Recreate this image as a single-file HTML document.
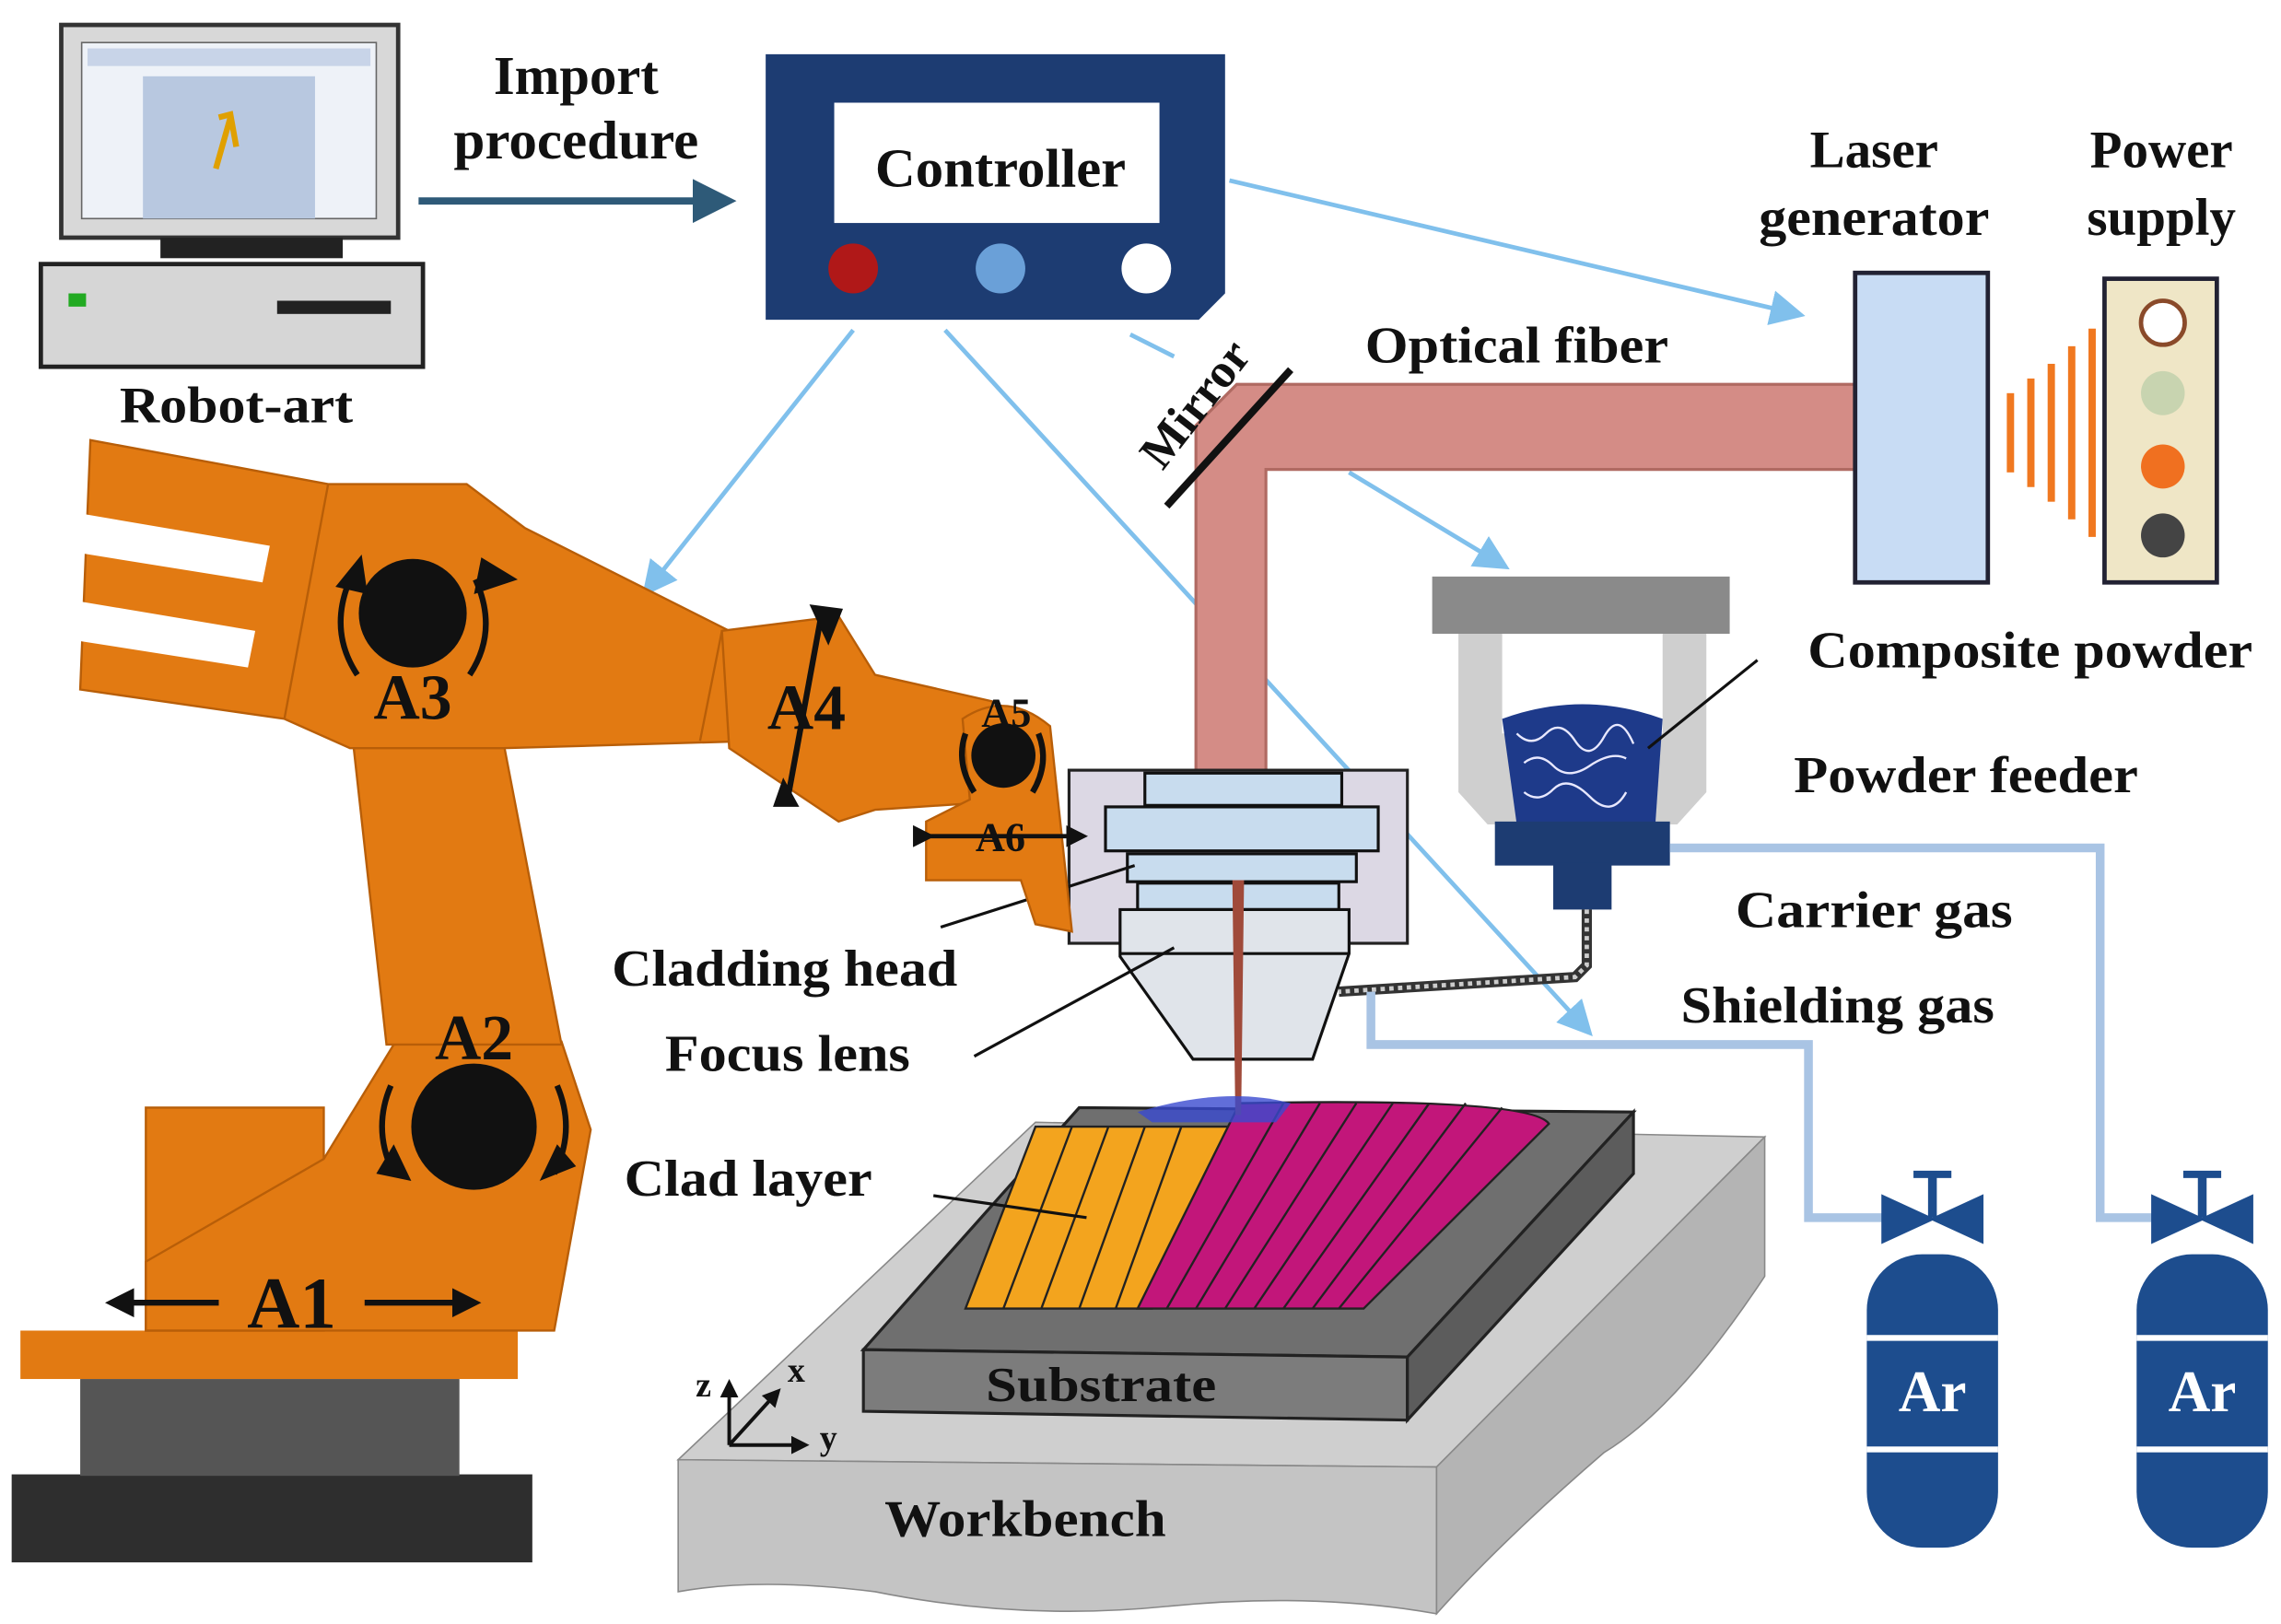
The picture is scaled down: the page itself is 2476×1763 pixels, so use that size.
<!DOCTYPE html>
<html><head><meta charset="utf-8"><style>
html,body{margin:0;padding:0;background:#fff}
svg{display:block}
text{font-family:"Liberation Serif",serif;font-weight:bold;fill:#111}
</style></head><body>
<svg width="2476" height="1763" viewBox="0 0 1564 1107" preserveAspectRatio="none" xmlns="http://www.w3.org/2000/svg">
<defs>
<marker id="ab" markerWidth="8" markerHeight="8" refX="6" refY="4" orient="auto" markerUnits="strokeWidth"><path d="M0,0 L8,4 L0,8 Z" fill="#80c0ec"/></marker>
<marker id="ad" markerWidth="6" markerHeight="6" refX="4" refY="3" orient="auto" markerUnits="strokeWidth"><path d="M0,0 L6,3 L0,6 Z" fill="#2e5a78"/></marker>
<marker id="ak" markerWidth="5" markerHeight="5" refX="3" refY="2.5" orient="auto" markerUnits="strokeWidth"><path d="M0,0 L5,2.5 L0,5 Z" fill="#111"/></marker>
</defs>

<!-- Computer -->
<rect x="42" y="17" width="231" height="145" fill="#d8d8d8" stroke="#333" stroke-width="3"/>
<rect x="56" y="29" width="202" height="120" fill="#eef2f8" stroke="#666"/>
<rect x="98" y="52" width="118" height="97" fill="#b8c8e0"/>
<rect x="60" y="33" width="194" height="12" fill="#c8d4e8"/>
<path d="M150,80 L158,78 L162,100 M158,80 L148,115" stroke="#e0a000" stroke-width="4" fill="none"/>
<rect x="110" y="162" width="125" height="14" fill="#222"/>
<rect x="28" y="180" width="262" height="70" fill="#d6d6d6" stroke="#222" stroke-width="3"/>
<rect x="47" y="200" width="12" height="9" fill="#2a2"/>
<rect x="190" y="205" width="78" height="9" fill="#222"/>
<text x="162" y="288" font-size="35" text-anchor="middle" textLength="160" lengthAdjust="spacingAndGlyphs">Robot-art</text>

<text x="395" y="64" font-size="37" text-anchor="middle">Import</text>
<text x="395" y="108" font-size="37" text-anchor="middle" textLength="168" lengthAdjust="spacingAndGlyphs">procedure</text>
<line x1="287" y1="137" x2="495" y2="137" stroke="#2e5a78" stroke-width="5" marker-end="url(#ad)"/>

<!-- Controller -->
<path d="M525,37 L840,37 L840,200 L822,218 L525,218 Z" fill="#1d3c72"/>
<rect x="572" y="70" width="223" height="82" fill="#fff"/>
<text x="686" y="127" font-size="37" text-anchor="middle" textLength="172" lengthAdjust="spacingAndGlyphs">Controller</text>
<circle cx="585" cy="183" r="17" fill="#b01818"/>
<circle cx="686" cy="183" r="17" fill="#6aa0d8"/>
<circle cx="786" cy="183" r="17" fill="#fff"/>

<!-- blue arrows -->
<g stroke="#80c0ec" stroke-width="3" fill="none">
<line x1="843" y1="123" x2="1232" y2="214" marker-end="url(#ab)"/>
<line x1="585" y1="225" x2="444" y2="402" marker-end="url(#ab)"/>
<line x1="648" y1="225" x2="1088" y2="702" marker-end="url(#ab)"/>
<line x1="775" y1="228" x2="805" y2="243"/>
<line x1="925" y1="322" x2="1030" y2="385" marker-end="url(#ab)"/>
</g>

<!-- optical fiber -->
<path d="M820,530 L820,290 L848,262 L1272,262 L1272,320 L868,320 L868,530 Z" fill="#d48c86" stroke="#b06a62" stroke-width="2"/>
<text x="1040" y="247" font-size="35" text-anchor="middle" textLength="208" lengthAdjust="spacingAndGlyphs">Optical fiber</text>
<line x1="800" y1="345" x2="885" y2="252" stroke="#111" stroke-width="5"/>
<text x="0" y="0" font-size="33" text-anchor="middle" transform="translate(828,282) rotate(-52)">Mirror</text>

<!-- Laser generator / Power supply -->
<text x="1285" y="114" font-size="36" text-anchor="middle">Laser</text>
<text x="1285" y="160" font-size="36" text-anchor="middle" textLength="158" lengthAdjust="spacingAndGlyphs">generator</text>
<text x="1482" y="114" font-size="36" text-anchor="middle">Power</text>
<text x="1482" y="160" font-size="36" text-anchor="middle">supply</text>
<rect x="1272" y="186" width="91" height="211" fill="#c8dcf4" stroke="#223" stroke-width="3"/>
<rect x="1443" y="190" width="77" height="207" fill="#efe6c6" stroke="#223" stroke-width="3"/>
<circle cx="1483" cy="220" r="15" fill="#fff" stroke="#8a4a2a" stroke-width="3"/>
<circle cx="1483" cy="268" r="15" fill="#c8d4b0"/>
<circle cx="1483" cy="318" r="15" fill="#f07020"/>
<circle cx="1483" cy="365" r="15" fill="#444"/>
<g fill="#f07820">
<rect x="1376" y="268" width="5" height="54"/>
<rect x="1390" y="258" width="5" height="74"/>
<rect x="1404" y="248" width="5" height="94"/>
<rect x="1418" y="236" width="5" height="118"/>
<rect x="1432" y="224" width="5" height="142"/>
</g>

<!-- Powder feeder -->
<rect x="982" y="393" width="204" height="39" fill="#8a8a8a"/>
<path d="M1000,432 L1030,432 L1030,500 L1140,500 L1140,432 L1170,432 L1170,540 L1150,562 L1020,562 L1000,540 Z" fill="#cfcfcf"/>
<path d="M1030,490 Q1085,470 1140,490 L1135,562 L1040,562 Z" fill="#1e3a8a"/>
<g stroke="#e8e8ff" stroke-width="1.5" fill="none">
<path d="M1040,500 q10,10 20,0 t20,5 t20,-3 t20,5 M1045,520 q10,-8 20,2 t25,0 t25,-5 M1045,540 q10,8 20,-2 t25,5 t25,-3"/>
</g>
<text x="1392" y="455" font-size="35" text-anchor="middle" textLength="305" lengthAdjust="spacingAndGlyphs">Composite powder</text>
<line x1="1205" y1="450" x2="1130" y2="510" stroke="#111" stroke-width="2"/>
<text x="1348" y="540" font-size="35" text-anchor="middle" textLength="236" lengthAdjust="spacingAndGlyphs">Powder feeder</text>
<rect x="1025" y="560" width="120" height="30" fill="#1d3c72"/>
<rect x="1065" y="588" width="40" height="32" fill="#1d3c72"/>
<path d="M1088,620 L1088,658 L1080,666 L918,676" stroke="#333" stroke-width="7" fill="none"/>
<path d="M1088,620 L1088,658 L1080,666 L918,676" stroke="#ccc" stroke-width="3" stroke-dasharray="3 3" fill="none"/>

<!-- gas lines -->
<g stroke="#a9c4e4" stroke-width="6" fill="none">
<path d="M1145,578 L1440,578 L1440,830 L1482,830"/>
<path d="M940,676 L940,712 L1240,712 L1240,830 L1292,830"/>
</g>
<text x="1285" y="632" font-size="35" text-anchor="middle" textLength="190" lengthAdjust="spacingAndGlyphs">Carrier gas</text>
<text x="1260" y="697" font-size="35" text-anchor="middle" textLength="215" lengthAdjust="spacingAndGlyphs">Shielding gas</text>

<!-- Ar tanks -->
<g fill="#1d4d8e">
<rect x="1312" y="798" width="26" height="5"/><rect x="1322" y="800" width="6" height="30"/>
<path d="M1290,814 L1325,830 L1360,814 L1360,848 L1325,832 L1290,848 Z"/>
<rect x="1280" y="855" width="90" height="200" rx="38"/>
<rect x="1497" y="798" width="26" height="5"/><rect x="1507" y="800" width="6" height="30"/>
<path d="M1475,814 L1510,830 L1545,814 L1545,848 L1510,832 L1475,848 Z"/>
<rect x="1465" y="855" width="90" height="200" rx="38"/>
</g>
<g fill="#fff">
<rect x="1280" y="910" width="90" height="4"/><rect x="1280" y="986" width="90" height="4"/>
<rect x="1465" y="910" width="90" height="4"/><rect x="1465" y="986" width="90" height="4"/>
</g>
<text x="1325" y="962" font-size="40" text-anchor="middle" style="fill:#fff">Ar</text>
<text x="1510" y="962" font-size="40" text-anchor="middle" style="fill:#fff">Ar</text>

<!-- Workbench -->
<path d="M710,765 L1210,775 L985,1000 L465,995 Z" fill="#cfcfcf" stroke="#888"/>
<path d="M465,995 L985,1000 L985,1100 Q900,1085 800,1095 Q700,1105 600,1085 Q520,1075 465,1085 Z" fill="#c4c4c4" stroke="#888"/>
<path d="M985,1000 L1210,775 L1210,870 Q1150,960 1100,990 Q1030,1050 985,1100 Z" fill="#b4b4b4" stroke="#888"/>
<text x="703" y="1047" font-size="35" text-anchor="middle" textLength="193" lengthAdjust="spacingAndGlyphs">Workbench</text>
<!-- Substrate -->
<path d="M740,755 L1120,758 L965,925 L592,920 Z" fill="#6f6f6f" stroke="#222" stroke-width="2"/>
<path d="M592,920 L965,925 L965,968 L592,962 Z" fill="#7c7c7c" stroke="#222" stroke-width="2"/>
<path d="M965,925 L1120,758 L1120,800 L965,968 Z" fill="#5c5c5c" stroke="#222" stroke-width="2"/>
<text x="755" y="955" font-size="33" text-anchor="middle" textLength="158" lengthAdjust="spacingAndGlyphs">Substrate</text>
<!-- clad tracks -->
<path d="M710,768 L850,768 L790,892 L662,892 Z" fill="#f3a41e" stroke="#222" stroke-width="1.5"/>
<g stroke="#222" stroke-width="1.5">
<line x1="735" y1="768" x2="688" y2="892"/><line x1="760" y1="768" x2="714" y2="892"/><line x1="785" y1="768" x2="740" y2="892"/><line x1="810" y1="768" x2="765" y2="892"/>
</g>
<path d="M850,752 Q1050,748 1062,766 L935,892 L780,892 Z" fill="#c2167a" stroke="#222" stroke-width="1.5"/>
<g stroke="#222" stroke-width="1.5">
<line x1="880" y1="752" x2="800" y2="892"/><line x1="905" y1="752" x2="820" y2="892"/><line x1="930" y1="752" x2="840" y2="892"/><line x1="955" y1="752" x2="860" y2="892"/><line x1="980" y1="752" x2="880" y2="892"/><line x1="1005" y1="752" x2="900" y2="892"/><line x1="1030" y1="755" x2="918" y2="892"/>
</g>
<text x="513" y="815" font-size="35" text-anchor="middle" textLength="170" lengthAdjust="spacingAndGlyphs">Clad layer</text>
<line x1="640" y1="815" x2="745" y2="830" stroke="#111" stroke-width="2"/>
<!-- axes -->
<g stroke="#111" stroke-width="2.5">
<line x1="500" y1="985" x2="500" y2="945" marker-end="url(#ak)"/>
<line x1="500" y1="985" x2="550" y2="985" marker-end="url(#ak)"/>
<line x1="500" y1="985" x2="532" y2="950" marker-end="url(#ak)"/>
</g>
<text x="477" y="952" font-size="24" font-weight="normal">z</text>
<text x="540" y="942" font-size="24">x</text>
<text x="562" y="988" font-size="24">y</text>

<!-- Cladding head -->
<rect x="733" y="525" width="232" height="118" fill="#dcd8e4" stroke="#222" stroke-width="2"/>
<g fill="#c8dcee" stroke="#111" stroke-width="2">
<rect x="785" y="527" width="135" height="22"/>
<rect x="758" y="550" width="187" height="30"/>
<rect x="773" y="582" width="157" height="19"/>
<rect x="780" y="602" width="138" height="18"/>
</g>
<path d="M768,620 L925,620 L925,650 L900,722 L818,722 L768,652 Z" fill="#e0e4ea" stroke="#111" stroke-width="2"/>
<line x1="768" y1="650" x2="925" y2="650" stroke="#111" stroke-width="2"/>
<path d="M845,600 L853,600 L851,760 L847,760 Z" fill="#a04a3a"/>
<path d="M780,758 Q840,740 885,752 L875,765 L790,765 Z" fill="#3a4ad0" opacity="0.8"/>
<text x="538" y="672" font-size="35" text-anchor="middle" textLength="237" lengthAdjust="spacingAndGlyphs">Cladding head</text>
<line x1="645" y1="632" x2="778" y2="590" stroke="#111" stroke-width="2"/>
<text x="540" y="730" font-size="35" text-anchor="middle" textLength="168" lengthAdjust="spacingAndGlyphs">Focus lens</text>
<line x1="668" y1="720" x2="805" y2="646" stroke="#111" stroke-width="2"/>

<!-- Robot -->
<rect x="8" y="1005" width="357" height="60" fill="#2e2e2e"/>
<rect x="55" y="940" width="260" height="66" fill="#555"/>
<rect x="14" y="907" width="341" height="33" fill="#e27a12"/>
<g fill="#e27a12" stroke="#b85e08" stroke-width="1.5">
<rect x="100" y="755" width="122" height="152"/>
<path d="M100,907 L380,907 L405,770 L385,710 L270,712 L222,790 L100,860 Z"/>
<path d="M242,505 L345,505 L385,712 L265,712 Z"/>
<path d="M62,300 L225,330 L320,330 L360,360 L500,430 L520,505 L345,510 L240,510 L195,490 L55,470 Z"/>
<path d="M495,430 L575,420 L600,460 L680,478 L705,545 L600,552 L575,560 L500,510 Z"/>
<path d="M660,490 Q690,470 720,495 L735,635 L710,630 L700,600 L635,600 L635,560 L665,545 Z"/>
</g>
<g fill="#fff">
<path d="M55,350 L185,372 L180,397 L55,377 Z"/>
<path d="M55,410 L175,430 L170,455 L55,437 Z"/>
</g>
<g stroke="#b85e08" stroke-width="1.5"><line x1="225" y1="330" x2="195" y2="490"/><line x1="495" y1="430" x2="480" y2="505"/></g>
<circle cx="283" cy="418" r="37" fill="#111"/>
<circle cx="325" cy="768" r="43" fill="#111"/>
<circle cx="688" cy="515" r="22" fill="#111"/>
<g stroke="#111" stroke-width="4" fill="none">
<path d="M240,395 Q225,430 245,460"/><path d="M326,395 Q342,430 322,460"/>
<path d="M268,740 Q255,770 270,800"/><path d="M382,740 Q395,770 380,800"/>
<path d="M662,500 Q655,520 668,540"/><path d="M712,500 Q720,520 708,540"/>
</g>
<g fill="#111">
<path d="M230,400 L248,378 L252,405 Z"/><path d="M355,395 L330,380 L325,405 Z"/>
<path d="M258,800 L282,805 L270,780 Z"/><path d="M395,795 L370,805 L382,780 Z"/>
</g>
<line x1="563" y1="420" x2="540" y2="545" stroke="#111" stroke-width="4"/>
<path d="M555,412 L578,415 L568,440 Z M530,550 L548,550 L537,530 Z" fill="#111"/>
<text x="283" y="490" font-size="44" text-anchor="middle">A3</text>
<text x="553" y="497" font-size="44" text-anchor="middle">A4</text>
<text x="690" y="495" font-size="28" text-anchor="middle">A5</text>
<text x="686" y="580" font-size="28" text-anchor="middle">A6</text>
<line x1="635" y1="570" x2="740" y2="570" stroke="#111" stroke-width="3" marker-end="url(#ak)" marker-start="url(#ak)"/>
<text x="325" y="722" font-size="44" text-anchor="middle">A2</text>
<text x="200" y="905" font-size="50" text-anchor="middle">A1</text>
<line x1="150" y1="888" x2="80" y2="888" stroke="#111" stroke-width="4" marker-end="url(#ak)"/>
<line x1="250" y1="888" x2="322" y2="888" stroke="#111" stroke-width="4" marker-end="url(#ak)"/>
</svg>
</body></html>
